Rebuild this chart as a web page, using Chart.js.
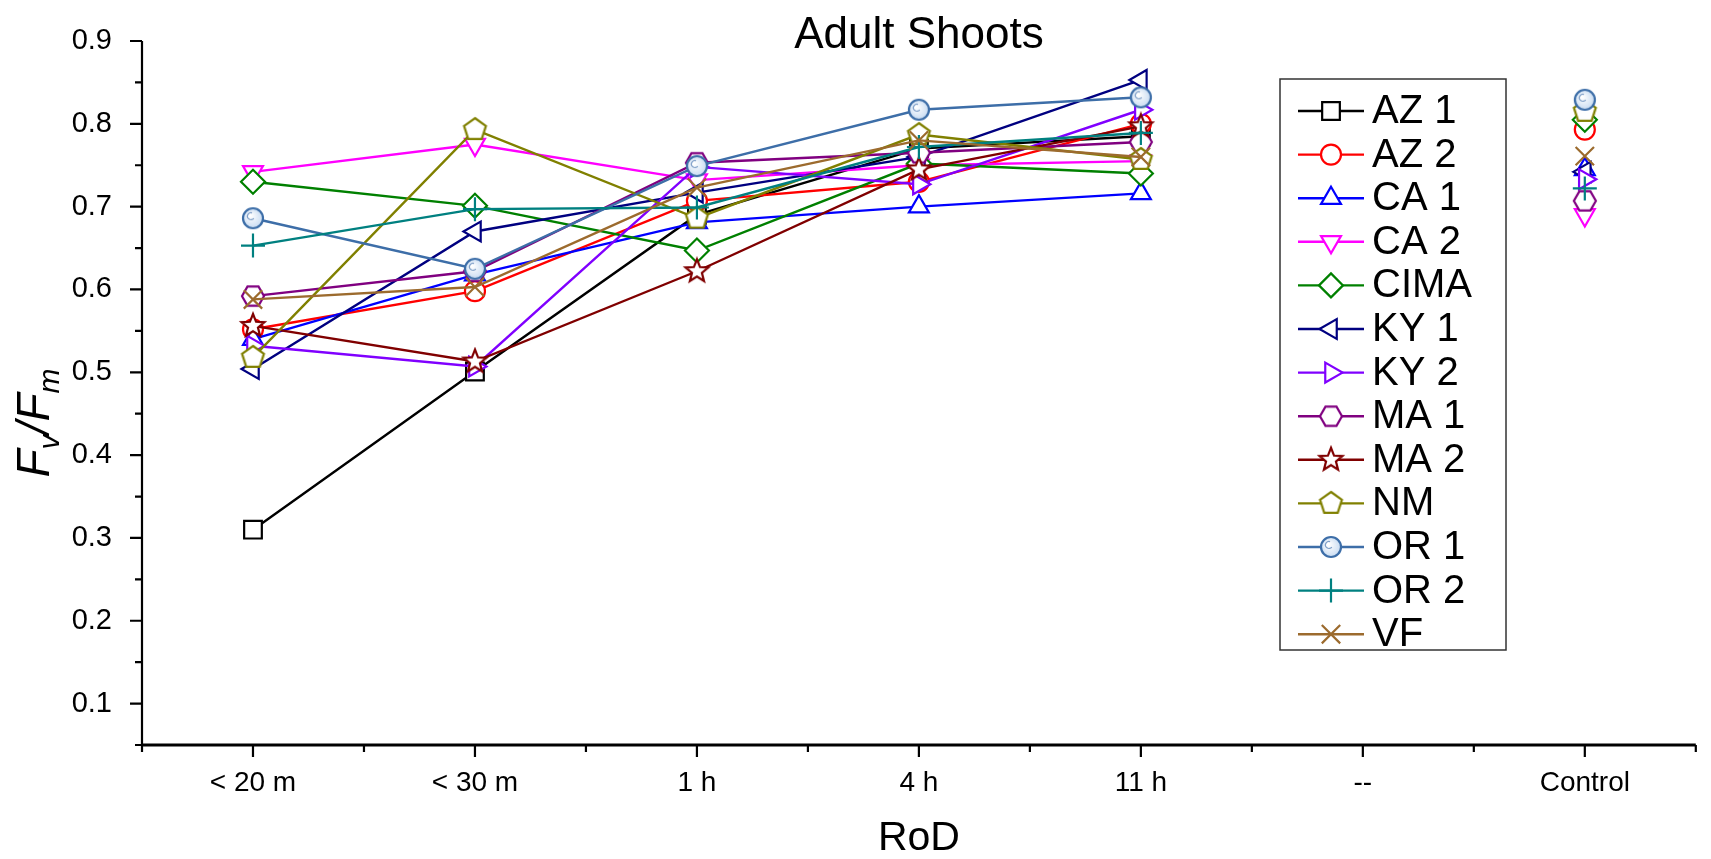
<!DOCTYPE html>
<html>
<head>
<meta charset="utf-8">
<script src="https://cdn.jsdelivr.net/npm/chart.js@4.4.1/dist/chart.umd.min.js"></script>
<style>
html,body{margin:0;padding:0;background:#fff}
#wrap{width:1711px;height:859px}
</style>
</head>
<body>
<div id="wrap"><canvas id="c" width="1711" height="859"></canvas></div>
<script>
// categories / ticks
const categories=['< 20 m','< 30 m','1 h','4 h','11 h','--','Control'];
const yTicks=[0.1,0.2,0.3,0.4,0.5,0.6,0.7,0.8,0.9];

// Fv/Fm per site
const az1 =[0.310,0.501,0.690,0.770,0.785,null,null];
const az2 =[0.552,0.598,0.707,0.730,0.800,null,0.793];
const ca1 =[0.540,0.618,0.681,0.700,0.716,null,0.745];
const ca2 =[0.742,0.775,0.732,0.750,0.755,null,0.690];
const cima=[0.730,0.701,0.647,0.752,0.740,null,0.805];
const ky1 =[0.504,0.670,0.717,0.760,0.853,null,0.742];
const ky2 =[0.532,0.507,0.748,0.727,0.817,null,0.733];
const ma1 =[0.592,0.622,0.753,0.765,0.778,null,0.707];
const ma2 =[0.556,0.513,0.622,0.745,0.797,null,null];
const nm  =[0.518,0.793,0.686,0.787,0.757,null,0.815];
const or1 =[0.686,0.625,0.749,0.817,0.832,null,0.829];
const or2 =[0.653,0.697,0.699,0.772,0.789,null,0.722];
const vf  =[0.588,0.603,0.723,0.780,0.760,null,0.761];

const seriesNames=['AZ 1','AZ 2','CA 1','CA 2','CIMA','KY 1','KY 2','MA 1','MA 2','NM','OR 1','OR 2','VF'];
const seriesValues=[az1,az2,ca1,ca2,cima,ky1,ky2,ma1,ma2,nm,or1,or2,vf];
const seriesColors=['#000000','#ff0000','#0000ff','#ff00ff','#008000','#000080','#8000ff','#800080','#800000','#808000','#3d6ea8','#008080','#9c6b2e'];

const FONT='"Liberation Sans", Arial, sans-serif';

// little canvases for the marker shapes chart.js doesn't have
function markCanvas(size,draw){
  const c=document.createElement('canvas');c.width=c.height=size;
  const g=c.getContext('2d');g.translate(size/2,size/2);draw(g);return c;
}
function polyMark(color,n,r,rot,inner){
  return markCanvas(Math.ceil(2*r+6),g=>{
    const pts=inner?n*2:n;g.beginPath();
    for(let i=0;i<pts;i++){const rr=inner&&i%2?inner:r,a=rot+i*2*Math.PI/pts;
      i?g.lineTo(rr*Math.cos(a),rr*Math.sin(a)):g.moveTo(rr*Math.cos(a),rr*Math.sin(a));}
    g.closePath();g.fillStyle='#fff';g.fill();g.lineWidth=2.2;g.strokeStyle=color;g.stroke();
  });
}
function orMark(color,r){
  return markCanvas(2*r+6,g=>{
    const gr=g.createRadialGradient(-3,-3,1,0,0,r);gr.addColorStop(0,'#ffffff');gr.addColorStop(1,'#c9dcf2');
    g.beginPath();g.arc(0,0,r,0,2*Math.PI);g.fillStyle=gr;g.fill();g.lineWidth=2.2;g.strokeStyle=color;g.stroke();
    g.beginPath();g.arc(-2,-2,3.5,Math.PI*0.2,Math.PI*1.6);g.lineWidth=1.2;g.strokeStyle='#7f9fc8';g.stroke();
  });
}

const styles=[
  {pointStyle:'rect',radius:12.5,rotation:0},
  {pointStyle:'circle',radius:10,rotation:0},
  {pointStyle:'triangle',radius:11.5,rotation:0},
  {pointStyle:'triangle',radius:11.5,rotation:180},
  {pointStyle:'rectRot',radius:12,rotation:0},
  {pointStyle:'triangle',radius:11.5,rotation:-90},
  {pointStyle:'triangle',radius:11.5,rotation:90},
  {pointStyle:polyMark(seriesColors[7],6,11,0),radius:11,rotation:0},
  {pointStyle:polyMark(seriesColors[8],5,12,-Math.PI/2,5.2),radius:12,rotation:0},
  {pointStyle:polyMark(seriesColors[9],5,11.5,-Math.PI/2),radius:11.5,rotation:0},
  {pointStyle:orMark(seriesColors[10],10),radius:10,rotation:0},
  {pointStyle:'cross',radius:12,rotation:0},
  {pointStyle:'crossRot',radius:13,rotation:0}
];

// later series drawn on top, like the source plot
const datasets=seriesNames.map((n,i)=>({
  label:n,data:seriesValues[i],borderColor:seriesColors[i],backgroundColor:'#fff',
  borderWidth:2.4,pointBorderWidth:2.2,pointBackgroundColor:'#fff',pointBorderColor:seriesColors[i],
  pointStyle:styles[i].pointStyle,pointRadius:styles[i].radius,pointRotation:styles[i].rotation,
  tension:0,spanGaps:false,order:seriesNames.length-i
}));

const axesPlugin={
  id:'axes',
  afterDatasetsDraw(chart){
    const {ctx,chartArea:a,scales:{x,y}}=chart;
    ctx.save();ctx.strokeStyle='#000';ctx.lineWidth=2.2;ctx.beginPath();
    const top=y.getPixelForValue(yTicks[yTicks.length-1]);
    ctx.moveTo(a.left,top);ctx.lineTo(a.left,a.bottom);
    yTicks.forEach(v=>{const p=y.getPixelForValue(v);ctx.moveTo(a.left-12,p);ctx.lineTo(a.left,p);
      const q=y.getPixelForValue(v-0.05);ctx.moveTo(a.left-7,q);ctx.lineTo(a.left,q);});
    categories.forEach((c,i)=>{const p=x.getPixelForValue(i);ctx.moveTo(p,a.bottom);ctx.lineTo(p,a.bottom+12);
      const q=x.getPixelForValue(i-0.5);ctx.moveTo(q,a.bottom);ctx.lineTo(q,a.bottom+7);});
    const e=x.getPixelForValue(categories.length-0.5);ctx.moveTo(e,a.bottom);ctx.lineTo(e,a.bottom+7);
    ctx.stroke();
    ctx.lineWidth=3;ctx.beginPath();ctx.moveTo(a.left-1,a.bottom);ctx.lineTo(a.right,a.bottom);ctx.stroke();
    ctx.restore();
  },
  afterDraw(chart){
    const {ctx,chartArea:a}=chart;
    ctx.save();
    // title
    ctx.fillStyle='#000';ctx.font='44px '+FONT;ctx.textAlign='center';ctx.textBaseline='alphabetic';
    ctx.fillText('Adult Shoots',(a.left+a.right)/2,48);
    // y title F_v/F_m
    ctx.translate(49,423);ctx.rotate(-Math.PI/2);
    const parts=[['F',46,0],['v',30,10],['/F',46,0],['m',30,10]];
    let w=0;parts.forEach(p=>{ctx.font='italic '+p[1]+'px '+FONT;w+=ctx.measureText(p[0]).width;});
    let xx=-w/2;ctx.textAlign='left';
    parts.forEach(p=>{ctx.font='italic '+p[1]+'px '+FONT;ctx.fillText(p[0],xx,p[2]);xx+=ctx.measureText(p[0]).width;});
    ctx.restore();
    // legend box
    ctx.save();
    const bx=1280,by=79,bw=226,bh=571;
    ctx.fillStyle='#fff';ctx.fillRect(bx,by,bw,bh);
    ctx.strokeStyle='#333';ctx.lineWidth=1.5;ctx.strokeRect(bx,by,bw,bh);
    chart.data.datasets.forEach((d,i)=>{
      const ry=111+i*43.6;
      ctx.strokeStyle=d.borderColor;ctx.lineWidth=2.4;ctx.beginPath();ctx.moveTo(1298,ry);ctx.lineTo(1364,ry);ctx.stroke();
      ctx.fillStyle='#fff';ctx.strokeStyle=d.borderColor;ctx.lineWidth=2.2;
      Chart.helpers.drawPoint(ctx,{pointStyle:d.pointStyle,rotation:d.pointRotation,radius:d.pointRadius,borderWidth:2.2},1331,ry);
      ctx.fillStyle='#000';ctx.font='40px '+FONT;ctx.textAlign='left';ctx.textBaseline='middle';
      ctx.fillText(d.label,1372,ry+1);
    });
    ctx.restore();
  }
};

new Chart(document.getElementById('c'),{
  type:'line',
  data:{labels:categories,datasets},
  options:{
    responsive:false,animation:false,
    layout:{padding:{left:0,right:3,top:41,bottom:0}},
    plugins:{legend:{display:false},title:{display:false},tooltip:{enabled:false}},
    scales:{
      x:{type:'category',offset:true,grid:{display:false},border:{display:false},
        ticks:{color:'#000',font:{family:FONT,size:28},padding:13,maxRotation:0,autoSkip:false},
        title:{display:true,text:'RoD',color:'#000',font:{family:FONT,size:41,lineHeight:1},padding:{top:0,bottom:0}},
        afterFit(s){s.height=114;}},
      y:{min:0.05,max:0.9,grid:{display:false},border:{display:false},
        afterBuildTicks(s){s.ticks=yTicks.map(v=>({value:v}));},
        ticks:{color:'#000',font:{family:FONT,size:29},padding:22,callback:v=>v.toFixed(1)},
        afterFit(s){s.width=142;}}
    }
  },
  plugins:[axesPlugin]
});
</script>
</body>
</html>
